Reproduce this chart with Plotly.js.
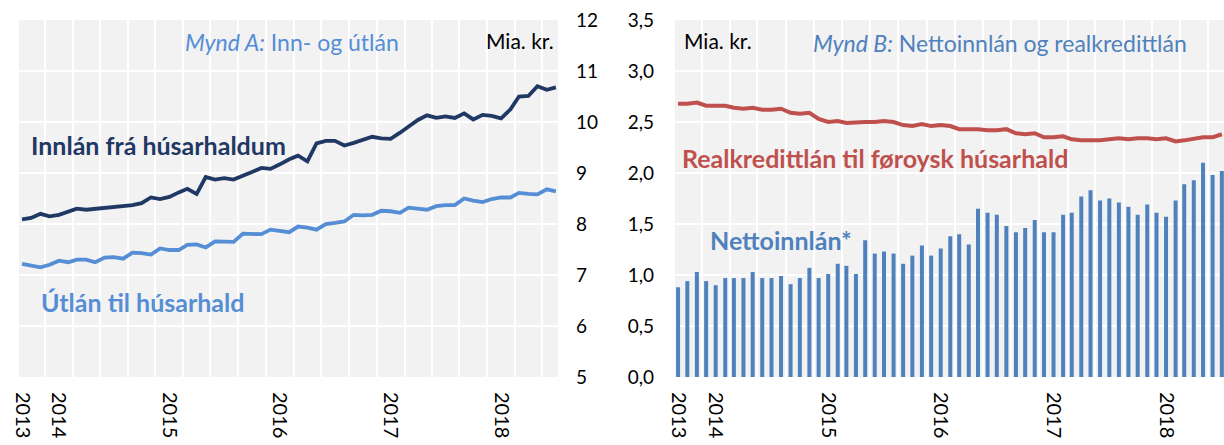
<!DOCTYPE html>
<html>
<head>
<meta charset="utf-8">
<script src="https://cdn.plot.ly/plotly-3.0.1.min.js"></script>
<style>
html,body{margin:0;padding:0;background:#fff;}
#chart{width:1224px;height:445px;}
</style>
</head>
<body>
<div id="chart"></div>
<script>
// Months (category axis of both panels)
const months = [
  '2013-09-01','2013-10-01','2013-11-01','2013-12-01',
  '2014-01-01','2014-02-01','2014-03-01','2014-04-01','2014-05-01','2014-06-01','2014-07-01','2014-08-01','2014-09-01','2014-10-01','2014-11-01','2014-12-01',
  '2015-01-01','2015-02-01','2015-03-01','2015-04-01','2015-05-01','2015-06-01','2015-07-01','2015-08-01','2015-09-01','2015-10-01','2015-11-01','2015-12-01',
  '2016-01-01','2016-02-01','2016-03-01','2016-04-01','2016-05-01','2016-06-01','2016-07-01','2016-08-01','2016-09-01','2016-10-01','2016-11-01','2016-12-01',
  '2017-01-01','2017-02-01','2017-03-01','2017-04-01','2017-05-01','2017-06-01','2017-07-01','2017-08-01','2017-09-01','2017-10-01','2017-11-01','2017-12-01',
  '2018-01-01','2018-02-01','2018-03-01','2018-04-01','2018-05-01','2018-06-01','2018-07-01'
];

// Mynd A (Mia. kr.)
const innlan = [8.09, 8.12, 8.20, 8.15, 8.18, 8.24, 8.30, 8.28, 8.30, 8.32,
  8.33, 8.35, 8.37, 8.41, 8.52, 8.49, 8.53, 8.62, 8.69, 8.59,
  8.92, 8.87, 8.90, 8.87, 8.94, 9.02, 9.10, 9.08, 9.17, 9.27,
  9.34, 9.23, 9.58, 9.63, 9.63, 9.54, 9.59, 9.64, 9.71, 9.68,
  9.67, 9.79, 9.90, 10.04, 10.13, 10.08, 10.11, 10.08, 10.17, 10.05,
  10.14, 10.12, 10.07, 10.25, 10.50, 10.51, 10.70, 10.63, 10.68];
const utlan = [7.22, 7.18, 7.15, 7.20, 7.28, 7.25, 7.30, 7.30, 7.25, 7.34,
  7.35, 7.32, 7.44, 7.43, 7.40, 7.52, 7.49, 7.49, 7.59, 7.60,
  7.54, 7.66, 7.65, 7.65, 7.81, 7.80, 7.80, 7.89, 7.87, 7.84,
  7.95, 7.93, 7.89, 8.00, 8.02, 8.05, 8.18, 8.17, 8.18, 8.26,
  8.25, 8.22, 8.32, 8.30, 8.28, 8.35, 8.37, 8.37, 8.50, 8.46,
  8.43, 8.49, 8.52, 8.52, 8.61, 8.59, 8.58, 8.68, 8.64];

// Mynd B (Mia. kr.)
const realkredit = [2.68, 2.68, 2.69, 2.66, 2.66, 2.66, 2.64, 2.63, 2.64, 2.62,
  2.62, 2.63, 2.59, 2.58, 2.59, 2.53, 2.50, 2.51, 2.49, 2.50,
  2.50, 2.50, 2.51, 2.50, 2.47, 2.46, 2.48, 2.46, 2.47, 2.46,
  2.43, 2.43, 2.43, 2.42, 2.42, 2.43, 2.39, 2.38, 2.39, 2.35,
  2.35, 2.36, 2.33, 2.32, 2.32, 2.32, 2.33, 2.34, 2.33, 2.34,
  2.34, 2.33, 2.34, 2.31, 2.32, 2.34, 2.35, 2.35, 2.38];
const netto = [0.88, 0.94, 1.03, 0.94, 0.90, 0.97, 0.97, 0.97, 1.03, 0.97,
  0.97, 0.99, 0.91, 0.97, 1.07, 0.97, 1.01, 1.11, 1.09, 1.01,
  1.34, 1.21, 1.23, 1.21, 1.11, 1.19, 1.29, 1.19, 1.26, 1.38,
  1.40, 1.30, 1.65, 1.61, 1.59, 1.48, 1.42, 1.46, 1.54, 1.42,
  1.42, 1.59, 1.61, 1.77, 1.83, 1.73, 1.75, 1.71, 1.67, 1.59,
  1.69, 1.61, 1.57, 1.73, 1.89, 1.93, 2.10, 1.98, 2.02];

// Tick labels
const yearTickVals = ['2013-09-01','2014-01-01','2015-01-01','2016-01-01','2017-01-01','2018-01-01'];
const yearTickText = ['2013','2014','2015','2016','2017','2018'];

const FONT = 'Lato, "Open Sans", sans-serif';
const NAVY = '#1f3864';
const LIGHT = '#558ed5';
const BLUE = '#4f81bd';
const RED = '#c0504d';
const W = 1224, T = 20, B = 377;
const px = x => x / W;
const py = y => (B - y) / (B - T);

const traces = [
  {x: months, y: innlan, type: 'scatter', mode: 'lines', xaxis: 'x', yaxis: 'y',
   line: {color: NAVY, width: 3.8}, hoverinfo: 'skip'},
  {x: months, y: utlan, type: 'scatter', mode: 'lines', xaxis: 'x', yaxis: 'y',
   line: {color: LIGHT, width: 3.8}, hoverinfo: 'skip'},
  {x: months, y: netto, type: 'bar', xaxis: 'x2', yaxis: 'y2',
   marker: {color: BLUE, line: {width: 0}}, width: 13 * 86400000, hoverinfo: 'skip'},
  {x: months, y: realkredit, type: 'scatter', mode: 'lines', xaxis: 'x2', yaxis: 'y2',
   line: {color: RED, width: 4}, hoverinfo: 'skip'}
];

const xCommon = {
  type: 'date',
  range: ['2013-08-22', '2018-07-08'],
  tickmode: 'array', tickvals: yearTickVals, ticktext: yearTickText,
  tickangle: 90, ticks: '', showgrid: false, zeroline: false, showline: false,
  tickfont: {family: FONT, size: 20, color: '#000'},
  ticklabelstandoff: 14,
  minor: {tickmode: 'linear', tick0: '2013-11-16', dtick: 'M3', showgrid: true,
          gridcolor: '#ffffff', gridwidth: 2, ticks: ''},
  fixedrange: true
};

const layout = {
  width: 1224, height: 445,
  margin: {l: 0, r: 0, t: T, b: 445 - B, pad: 0},
  paper_bgcolor: '#ffffff',
  plot_bgcolor: '#f2f2f2',
  showlegend: false,
  separators: ', ',
  font: {family: FONT, color: '#000'},
  xaxis: Object.assign({}, xCommon, {domain: [px(19), px(558)], anchor: 'y'}),
  xaxis2: Object.assign({}, xCommon, {domain: [px(675), 1], anchor: 'y2'}),
  yaxis: {
    domain: [0, 1], anchor: 'x', side: 'right', range: [5, 12], dtick: 1, tick0: 0,
    showgrid: true, gridcolor: '#ffffff', gridwidth: 2, zeroline: false, showline: false,
    ticks: '', tickfont: {family: FONT, size: 19, color: '#000'}, ticklabelstandoff: 17,
    fixedrange: true
  },
  yaxis2: {
    domain: [0, 1], anchor: 'x2', side: 'left', range: [0, 3.5], dtick: 0.5, tick0: 0,
    tickformat: '.1f',
    showgrid: true, gridcolor: '#ffffff', gridwidth: 2, zeroline: false, showline: false,
    ticks: '', tickfont: {family: FONT, size: 19, color: '#000'}, ticklabelstandoff: 20,
    fixedrange: true
  },
  annotations: [
    {text: '<i>Mynd A:</i> Inn- og útlán', x: px(183), y: py(42), xref: 'paper', yref: 'paper',
     xanchor: 'left', yanchor: 'middle', showarrow: false, font: {family: FONT, size: 23, color: LIGHT}},
    {text: 'Mia. kr.', x: px(484), y: py(40), xref: 'paper', yref: 'paper',
     xanchor: 'left', yanchor: 'middle', showarrow: false, font: {family: FONT, size: 21, color: '#000'}},
    {text: '<b>Innlán frá húsarhaldum</b>', x: px(29), y: py(145), xref: 'paper', yref: 'paper',
     xanchor: 'left', yanchor: 'middle', showarrow: false, font: {family: FONT, size: 25, color: NAVY}},
    {text: '<b>Útlán til húsarhald</b>', x: px(39), y: py(302), xref: 'paper', yref: 'paper',
     xanchor: 'left', yanchor: 'middle', showarrow: false, font: {family: FONT, size: 25, color: LIGHT}},
    {text: 'Mia. kr.', x: px(682), y: py(40), xref: 'paper', yref: 'paper',
     xanchor: 'left', yanchor: 'middle', showarrow: false, font: {family: FONT, size: 21, color: '#000'}},
    {text: '<i>Mynd B:</i> Nettoinnlán og realkredittlán', x: px(811), y: py(43), xref: 'paper', yref: 'paper',
     xanchor: 'left', yanchor: 'middle', showarrow: false, font: {family: FONT, size: 23, color: BLUE}},
    {text: '<b>Realkredittlán til føroysk húsarhald</b>', x: px(680), y: py(158), xref: 'paper', yref: 'paper',
     xanchor: 'left', yanchor: 'middle', showarrow: false, font: {family: FONT, size: 25, color: RED}},
    {text: '<b>Nettoinnlán*</b>', x: px(708), y: py(240), xref: 'paper', yref: 'paper',
     xanchor: 'left', yanchor: 'middle', showarrow: false, font: {family: FONT, size: 25, color: BLUE}}
  ]
};

Plotly.newPlot('chart', traces, layout, {staticPlot: true, displayModeBar: false});
</script>
</body>
</html>
